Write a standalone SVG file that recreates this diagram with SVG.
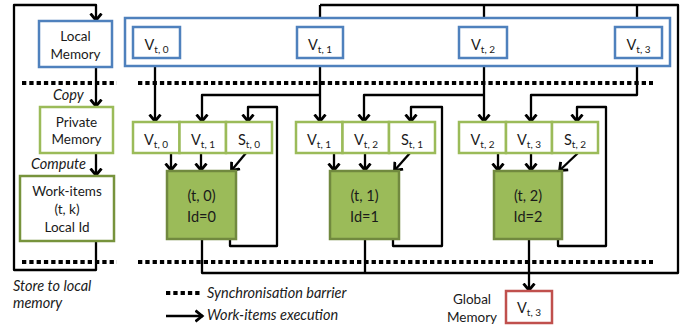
<svg xmlns="http://www.w3.org/2000/svg" width="697" height="329" viewBox="0 0 697 329">
<style>
.bg{fill:#fff}
.blue{fill:#fff;stroke:#4F81BD;stroke-width:2.5}
.lg{fill:#fff;stroke:#9BBB59;stroke-width:2.5}
.dg{fill:#fff;stroke:#77933C;stroke-width:2.5}
.cp{fill:#9BBB59;stroke:#71893F;stroke-width:2.5}
.red{fill:#fff;stroke:#C0504D;stroke-width:2.5}
.ln{fill:none;stroke:#000;stroke-width:2.3;stroke-linejoin:round}
.ar{fill:none;stroke:#000;stroke-width:2.3;stroke-linejoin:round;marker-end:url(#ah)}
.dot{fill:none;stroke:#000;stroke-width:4;stroke-dasharray:4.3 3}
text{font-family:Lato,"Open Sans","Liberation Sans",sans-serif;font-size:13.5px;fill:#1a1a1a}
.c{text-anchor:middle}
.it{font-style:italic;font-size:14.5px}
.v{font-size:14.5px}
.sub{font-size:10px}
</style>
<defs>
<marker id="ah" markerUnits="userSpaceOnUse" markerWidth="16" markerHeight="16" viewBox="-8 -8 16 16" refX="0" refY="0" orient="auto">
<polyline points="-7.5,-5.5 -0.8,0 -7.5,5.5" fill="none" stroke="#000" stroke-width="2.8"/>
</marker>
</defs>
<rect class="bg" x="0" y="0" width="697" height="329"/>

<g id="barriers">
<line class="dot" x1="22" y1="83" x2="117" y2="83"/>
<line class="dot" x1="138" y1="83" x2="653" y2="83"/>
<line class="dot" x1="22" y1="262" x2="117" y2="262"/>
<line class="dot" x1="138" y1="262" x2="653" y2="262"/>
</g>

<g id="connectors">
<path class="ar" d="M96,241 V270 H14 V5 H96 V21"/>
<path class="ar" d="M96,67 V107"/>
<path class="ar" d="M96,153 V176"/>
<path class="ln" d="M202,239 V273 H678 V5 H320"/>
<path class="ar" d="M320,5 V27"/>
<path class="ar" d="M484,5 V27"/>
<path class="ar" d="M637,5 V27"/>
<path class="ln" d="M365,239 V273"/>
<path class="ar" d="M529,239 V291"/>
<path class="ar" d="M155,58 V122"/>
<path class="ar" d="M320,58 V122"/>
<path class="ar" d="M320,95 H202 V122"/>
<path class="ar" d="M484,58 V122"/>
<path class="ar" d="M484,95 H364 V122"/>
<path class="ar" d="M637,58 V95 H531 V122"/>
<path class="ar" d="M230,239 V246 H277 V107 H248 V122"/>
<path class="ar" d="M393,239 V246 H442 V107 H411 V122"/>
<path class="ar" d="M558,239 V246 H606 V107 H577 V122"/>
<path class="ar" d="M171,153 V171"/>
<path class="ar" d="M201,153 V171"/>
<path class="ar" d="M246,153 L231,171"/>
<path class="ar" d="M334,153 V171"/>
<path class="ar" d="M365,153 V171"/>
<path class="ar" d="M410,153 L394,171"/>
<path class="ar" d="M498,153 V171"/>
<path class="ar" d="M531,153 V171"/>
<path class="ar" d="M578,153 L559,171"/>
</g>

<g id="local-memory">
<rect class="blue" x="39" y="21" width="73" height="46"/>
<text class="c" x="75.5" y="41">Local</text>
<text class="c" x="75.5" y="59">Memory</text>
</g>
<g id="private-memory">
<rect class="lg" x="40" y="107" width="73" height="46"/>
<text class="c" x="76.5" y="127">Private</text>
<text class="c" x="76.5" y="144">Memory</text>
</g>
<g id="work-items">
<rect class="dg" x="20" y="176" width="94" height="65"/>
<text class="c" x="67" y="196">Work-items</text>
<text class="c" x="67" y="214">(t, k)</text>
<text class="c" x="67" y="232">Local Id</text>
</g>
<g id="labels">
<text class="it" x="53" y="100">Copy</text>
<text class="it" x="31" y="169">Compute</text>
<text class="it" x="13" y="291">Store to local</text>
<text class="it" x="13" y="308">memory</text>
</g>

<g id="local-store">
<rect class="blue" x="125" y="18" width="545" height="48"/>
<rect class="blue" x="133" y="27" width="47" height="31"/>
<text class="c v" x="156.5" y="50">V<tspan class="sub" dy="3">t, 0</tspan></text>
<rect class="blue" x="297" y="27" width="46" height="31"/>
<text class="c v" x="320" y="50">V<tspan class="sub" dy="3">t, 1</tspan></text>
<rect class="blue" x="459" y="27" width="48" height="31"/>
<text class="c v" x="483" y="50">V<tspan class="sub" dy="3">t, 2</tspan></text>
<rect class="blue" x="615" y="27" width="47" height="31"/>
<text class="c v" x="638.5" y="50">V<tspan class="sub" dy="3">t, 3</tspan></text>
</g>

<g id="private-0">
<rect class="lg" x="133" y="122" width="46.5" height="31"/>
<rect class="lg" x="179.5" y="122" width="46.5" height="31"/>
<rect class="lg" x="226" y="122" width="46" height="31"/>
<text class="c v" x="156" y="145">V<tspan class="sub" dy="3">t, 0</tspan></text>
<text class="c v" x="203" y="145">V<tspan class="sub" dy="3">t, 1</tspan></text>
<text class="c v" x="249" y="145">S<tspan class="sub" dy="3">t, 0</tspan></text>
</g>
<g id="private-1">
<rect class="lg" x="296" y="122" width="46.5" height="31"/>
<rect class="lg" x="342.5" y="122" width="46.5" height="31"/>
<rect class="lg" x="389" y="122" width="46" height="31"/>
<text class="c v" x="319" y="145">V<tspan class="sub" dy="3">t, 1</tspan></text>
<text class="c v" x="366" y="145">V<tspan class="sub" dy="3">t, 2</tspan></text>
<text class="c v" x="412" y="145">S<tspan class="sub" dy="3">t, 1</tspan></text>
</g>
<g id="private-2">
<rect class="lg" x="459" y="122" width="47" height="31"/>
<rect class="lg" x="506" y="122" width="46" height="31"/>
<rect class="lg" x="552" y="122" width="46" height="31"/>
<text class="c v" x="482.5" y="145">V<tspan class="sub" dy="3">t, 2</tspan></text>
<text class="c v" x="529" y="145">V<tspan class="sub" dy="3">t, 3</tspan></text>
<text class="c v" x="575" y="145">S<tspan class="sub" dy="3">t, 2</tspan></text>
</g>

<g id="work-item-0">
<rect class="cp" x="167" y="171" width="69" height="68"/>
<text class="c v" x="201.5" y="201">(t, 0)</text>
<text class="c v" x="201.5" y="222">Id=0</text>
</g>
<g id="work-item-1">
<rect class="cp" x="330" y="171" width="69" height="68"/>
<text class="c v" x="364.5" y="201">(t, 1)</text>
<text class="c v" x="364.5" y="222">Id=1</text>
</g>
<g id="work-item-2">
<rect class="cp" x="494" y="171" width="68" height="68"/>
<text class="c v" x="528" y="201">(t, 2)</text>
<text class="c v" x="528" y="222">Id=2</text>
</g>

<g id="global-memory">
<rect class="red" x="506" y="291" width="46" height="32"/>
<text class="c v" x="529" y="313">V<tspan class="sub" dy="3">t, 3</tspan></text>
<text class="c" x="472" y="304">Global</text>
<text class="c" x="472" y="322">Memory</text>
</g>

<g id="legend">
<line class="dot" x1="166" y1="293" x2="202" y2="293"/>
<text class="it" x="207" y="298">Synchronisation barrier</text>
<path class="ar" d="M166,316 H203"/>
<text class="it" x="207" y="320">Work-items execution</text>
</g>
</svg>
